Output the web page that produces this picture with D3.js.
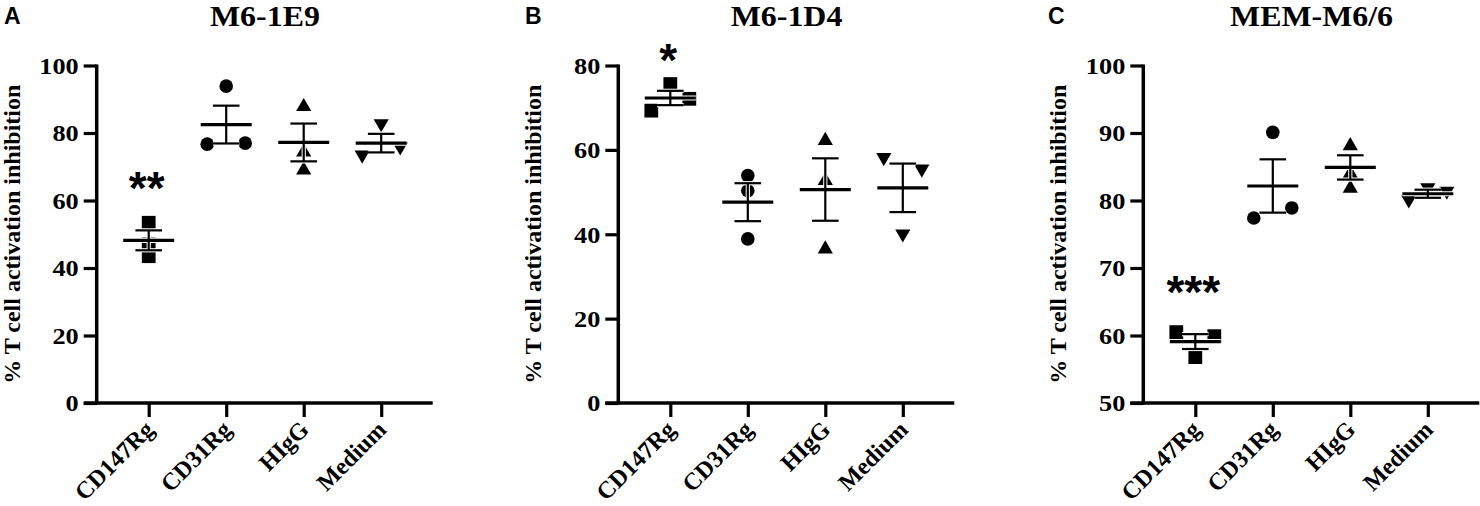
<!DOCTYPE html>
<html>
<head>
<meta charset="utf-8">
<script src="https://cdn.jsdelivr.net/npm/d3@7"></script>
<style>
  html, body { margin: 0; padding: 0; background: #fff; }
  svg { display: block; }
</style>
</head>
<body>
<svg id="chart" width="1480" height="506"></svg>
<script>
// ---------------- DATA ----------------
const categories = ["CD147Rg", "CD31Rg", "HIgG", "Medium"];
const panelLetters = ["A", "B", "C"];
const panelTitles = ["M6-1E9", "M6-1D4", "MEM-M6/6"];
const yAxisTitle = "% T cell activation inhibition";

const yDomainA = [0, 100];
const yDomainB = [0, 80];
const yDomainC = [50, 100];
const yTicksA = [0, 20, 40, 60, 80, 100];
const yTicksB = [0, 20, 40, 60, 80];
const yTicksC = [50, 60, 70, 80, 90, 100];

// replicate values per category
const pointsA = [[53.4, 47.0, 43.5], [93.9, 76.7, 77.0], [87.8, 74.3, 69.0], [82.8, 73.5, 75.9]];
const pointsB = [[69.3, 75.6, 72.1], [53.9, 50.3, 38.9], [62.2, 52.7, 36.5], [58.2, 55.5, 40.1]];
const pointsC = [[60.5, 59.9, 56.8], [90.1, 77.4, 78.9], [88.1, 84.0, 81.8], [80.1, 81.9, 81.4]];

// horizontal dodge slot of each replicate (-1 left, 0 centre, 1 right), as seen in the picture
const slotsA = [[0, 0, 0], [0, -1, 1], [0, 0, 0], [0, -1, 1]];
const slotsB = [[-1, 0, 1], [0, 0, 0], [0, 0, 0], [-1, 1, 0]];
const slotsC = [[-1, 1, 0], [0, -1, 1], [0, 0, 0], [-1, 0, 1]];

// mean and SEM per category
const meansA = [48.2, 82.5, 77.2, 77.0];
const semsA = [2.95, 5.6, 5.6, 2.75];
const meansB = [72.3, 47.6, 50.6, 51.0];
const semsB = [1.7, 4.5, 7.4, 5.75];
const meansC = [59.1, 82.15, 84.9, 81.0];
const semsC = [1.1, 3.95, 1.8, 0.6];

// significance marks (over CD147Rg)
const sigLabels = ["**", "*", "***"];
const sigValues = [66.6, 83.6, 68.0];

// ---------------- DRAW ----------------
const svg = d3.select("#chart");
const serif = "'Liberation Serif', 'Times New Roman', serif";
const sans = "'Liberation Sans', Arial, sans-serif";

const panels = [
  { letter: panelLetters[0], title: panelTitles[0], dom: yDomainA, ticks: yTicksA, pts: pointsA, slots: slotsA, means: meansA, sems: semsA, sig: sigLabels[0], sigV: sigValues[0] },
  { letter: panelLetters[1], title: panelTitles[1], dom: yDomainB, ticks: yTicksB, pts: pointsB, slots: slotsB, means: meansB, sems: semsB, sig: sigLabels[1], sigV: sigValues[1] },
  { letter: panelLetters[2], title: panelTitles[2], dom: yDomainC, ticks: yTicksC, pts: pointsC, slots: slotsC, means: meansC, sems: semsC, sig: sigLabels[2], sigV: sigValues[2] }
];

const axisXs = [96.7, 618.3, 1143.3];
const letterXs = [4, 525, 1048];
const plotTop = 65.5, plotBottom = 403;
const dodge = 19;
const meanHalf = 25.5, semHalf = 13.3;

const symbolTypes = [d3.symbolSquare, d3.symbolCircle, d3.symbolTriangle, d3.symbolTriangle];
const symbolSizes = [190, 145, 100, 100];
const symbolRot = [0, 0, 0, 180];

panels.forEach((p, i) => {
  const ax = axisXs[i];
  const g = svg.append("g");
  const y = d3.scaleLinear().domain(p.dom).range([plotBottom, plotTop]);
  const x = d3.scalePoint().domain(categories).range([ax + 52, ax + 284.5]);

  // panel letter
  g.append("text").attr("x", letterXs[i]).attr("y", 24)
    .attr("font-family", sans).attr("font-weight", "bold").attr("font-size", 23)
    .text(p.letter);

  // title
  const cx = (x(categories[0]) + x(categories[3])) / 2;
  g.append("text").attr("x", cx).attr("y", 26).attr("text-anchor", "middle")
    .attr("font-family", serif).attr("font-weight", "bold").attr("font-size", 29)
    .attr("transform", `translate(${cx},0) scale(1.1,1) translate(${-cx},0)`)
    .text(p.title);

  // y axis
  const yAxis = d3.axisLeft(y).tickValues(p.ticks).tickSize(13).tickSizeOuter(0).tickFormat(d3.format("d"));
  const yg = g.append("g").attr("transform", `translate(${ax},0)`).call(yAxis);
  yg.select(".domain").remove();
  yg.selectAll(".tick line").attr("stroke", "#000").attr("stroke-width", 3.2);
  yg.selectAll(".tick text")
    .attr("x", 0).attr("dy", "0.34em")
    .attr("transform", "translate(-18,0) scale(1.12,1)")
    .attr("font-family", serif).attr("font-weight", "bold").attr("font-size", 23.5)
    .attr("fill", "#000").attr("text-anchor", "end");
  g.append("line").attr("x1", ax).attr("x2", ax).attr("y1", plotBottom + 1.5).attr("y2", plotTop - 1)
    .attr("stroke", "#000").attr("stroke-width", 3.5);

  // x axis
  const xAxis = d3.axisBottom(x).tickSize(14).tickSizeOuter(0);
  const xg = g.append("g").attr("transform", `translate(0,${plotBottom})`).call(xAxis);
  xg.select(".domain").remove();
  xg.selectAll(".tick line").attr("stroke", "#000").attr("stroke-width", 3.2);
  xg.selectAll(".tick text")
    .attr("x", 0).attr("y", 0).attr("dy", 0)
    .attr("transform", "translate(6,28) rotate(-45)")
    .attr("text-anchor", "end")
    .attr("font-family", serif).attr("font-weight", "bold").attr("font-size", 24)
    .attr("fill", "#000");
  g.append("line").attr("x1", ax - 13).attr("x2", ax + 336).attr("y1", plotBottom).attr("y2", plotBottom)
    .attr("stroke", "#000").attr("stroke-width", 3.5);

  // points
  categories.forEach((c, ci) => {
    const sym = d3.symbol().type(symbolTypes[ci]).size(symbolSizes[ci]);
    p.pts[ci].forEach((v, k) => {
      g.append("path")
        .attr("d", sym())
        .attr("transform", `translate(${x(c) + p.slots[ci][k] * dodge},${y(v)}) rotate(${symbolRot[ci]})`)
        .attr("fill", "#000");
    });
  });

  // mean +/- SEM bars with white halo
  categories.forEach((c, ci) => {
    const xc = x(c);
    const m = p.means[ci], s = p.sems[ci];
    const segs = [
      { x1: xc - meanHalf, x2: xc + meanHalf, y1: y(m), y2: y(m), w: 3.2 },
      { x1: xc - semHalf, x2: xc + semHalf, y1: y(m + s), y2: y(m + s), w: 2.2 },
      { x1: xc - semHalf, x2: xc + semHalf, y1: y(m - s), y2: y(m - s), w: 2.2 },
      { x1: xc, x2: xc, y1: y(m + s), y2: y(m - s), w: 2.2 }
    ];
    segs.forEach(sg => {
      g.append("line").attr("x1", sg.x1).attr("x2", sg.x2).attr("y1", sg.y1).attr("y2", sg.y2)
        .attr("stroke", "#fff").attr("stroke-width", sg.w + 2);
    });
    segs.forEach(sg => {
      g.append("line").attr("x1", sg.x1).attr("x2", sg.x2).attr("y1", sg.y1).attr("y2", sg.y2)
        .attr("stroke", "#000").attr("stroke-width", sg.w);
    });
  });

  // significance asterisks
  g.append("text")
    .attr("x", x(categories[0]) - 2).attr("y", y(p.sigV) + 26)
    .attr("text-anchor", "middle")
    .attr("font-family", sans).attr("font-weight", "bold").attr("font-size", 46)
    .text(p.sig);

  // y axis title
  const ly = (plotTop + plotBottom) / 2;
  const lx = ax - 85;
  g.append("text")
    .attr("transform", `translate(${lx + 8},${ly}) rotate(-90)`)
    .attr("text-anchor", "middle")
    .attr("font-family", serif).attr("font-weight", "bold").attr("font-size", 24)
    .text(yAxisTitle);
});
</script>
</body>
</html>
